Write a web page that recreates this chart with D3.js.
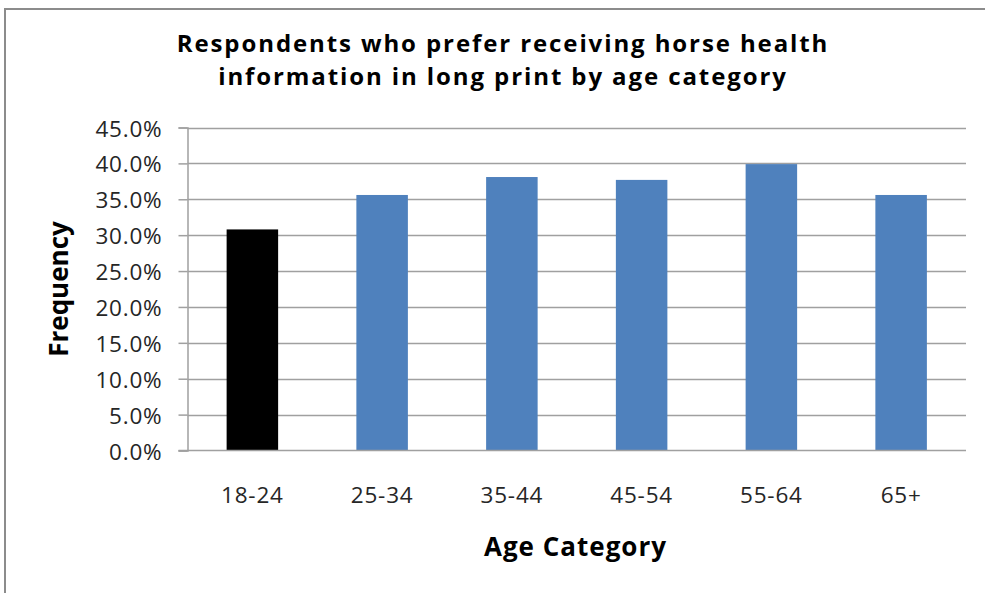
<!DOCTYPE html>
<html>
<head>
<meta charset="utf-8">
<script src="https://cdn.jsdelivr.net/npm/d3@7/dist/d3.min.js"></script>
<style>
  html, body { margin: 0; padding: 0; background: #fff; }
  svg { display: block; }
  text { font-family: "Open Sans", Lato, sans-serif; }
</style>
</head>
<body>
<svg id="chart" width="985" height="593"></svg>
<script>
// Share of respondents preferring long-print horse health information, by age group
const categories = ["18-24", "25-34", "35-44", "45-54", "55-64", "65+"];
const values = [0.308, 0.356, 0.381, 0.377, 0.399, 0.356];
const barColors = ["#000000", "#4f81bd", "#4f81bd", "#4f81bd", "#4f81bd", "#4f81bd"];
const yTicks = [0, 0.05, 0.10, 0.15, 0.20, 0.25, 0.30, 0.35, 0.40, 0.45];
const titleLines = ["Respondents who prefer receiving horse health",
                    "information in long print by age category"];

const svg = d3.select("#chart");
const W = 985, H = 593;
const plot = { left: 187.5, right: 966, top: 127.5, bottom: 450.5 };

// outer frame (top and left edges visible)
svg.append("path")
  .attr("d", `M5,${H} L5,9 L${W},9`)
  .attr("fill", "none")
  .attr("stroke", "#8c8c8c")
  .attr("stroke-width", 2);

const x = d3.scaleBand()
  .domain(categories)
  .range([plot.left, plot.right])
  .paddingInner(0.603)
  .paddingOuter(0.3015);

const y = d3.scaleLinear()
  .domain([0, 0.45])
  .range([plot.bottom, plot.top]);

// horizontal gridlines
svg.append("g")
  .selectAll("line")
  .data(yTicks.filter(d => d > 0))
  .join("line")
  .attr("x1", plot.left)
  .attr("x2", plot.right)
  .attr("y1", d => Math.round(y(d)) + 0.5)
  .attr("y2", d => Math.round(y(d)) + 0.5)
  .attr("stroke", "#a0a0a0")
  .attr("stroke-width", 1.5);

// y axis
const yAxis = svg.append("g")
  .attr("transform", `translate(${plot.left},0)`)
  .call(d3.axisLeft(y).tickValues(yTicks).tickFormat(d3.format(".1%")).tickSize(9).tickPadding(16));
yAxis.select(".domain").attr("stroke", "#a0a0a0").attr("stroke-width", 1.5);
yAxis.selectAll(".tick line").attr("stroke", "#a0a0a0").attr("stroke-width", 1.5);
yAxis.selectAll(".tick text")
  .attr("fill", "#262626")
  .attr("dy", "0.38em")
  .style("font-size", "22.5px")
  .style("letter-spacing", "0.8px")
  .style("font-family", "'Open Sans', sans-serif");

// bars
svg.append("g")
  .selectAll("rect")
  .data(categories)
  .join("rect")
  .attr("x", d => x(d))
  .attr("width", x.bandwidth())
  .attr("y", (d, i) => y(values[i]))
  .attr("height", (d, i) => y(0) - y(values[i]))
  .attr("fill", (d, i) => barColors[i]);

// x axis baseline
svg.append("line")
  .attr("x1", plot.left - 9)
  .attr("x2", plot.right)
  .attr("y1", plot.bottom)
  .attr("y2", plot.bottom)
  .attr("stroke", "#a0a0a0")
  .attr("stroke-width", 1.5);

// category labels
svg.append("g")
  .selectAll("text")
  .data(categories)
  .join("text")
  .attr("x", d => x(d) + x.bandwidth() / 2)
  .attr("y", 503)
  .attr("text-anchor", "middle")
  .attr("fill", "#262626")
  .style("font-size", "22.5px")
  .style("letter-spacing", "0.8px")
  .text(d => d);

// two-line title
svg.append("g")
  .selectAll("text")
  .data(titleLines)
  .join("text")
  .attr("x", 503)
  .attr("y", (d, i) => 52 + i * 33)
  .attr("text-anchor", "middle")
  .attr("fill", "#000")
  .style("font-size", "24px")
  .style("font-weight", "bold")
  .style("letter-spacing", "1.9px")
  .text(d => d);

// axis titles
svg.append("text")
  .attr("x", 575.5)
  .attr("y", 556)
  .attr("text-anchor", "middle")
  .style("font-size", "26px")
  .style("font-weight", "bold")
  .style("letter-spacing", "1px")
  .text("Age Category");

svg.append("text")
  .attr("transform", "translate(68,289) rotate(-90)")
  .attr("text-anchor", "middle")
  .style("font-size", "26px")
  .style("font-weight", "bold")
  .text("Frequency");
</script>
</body>
</html>
